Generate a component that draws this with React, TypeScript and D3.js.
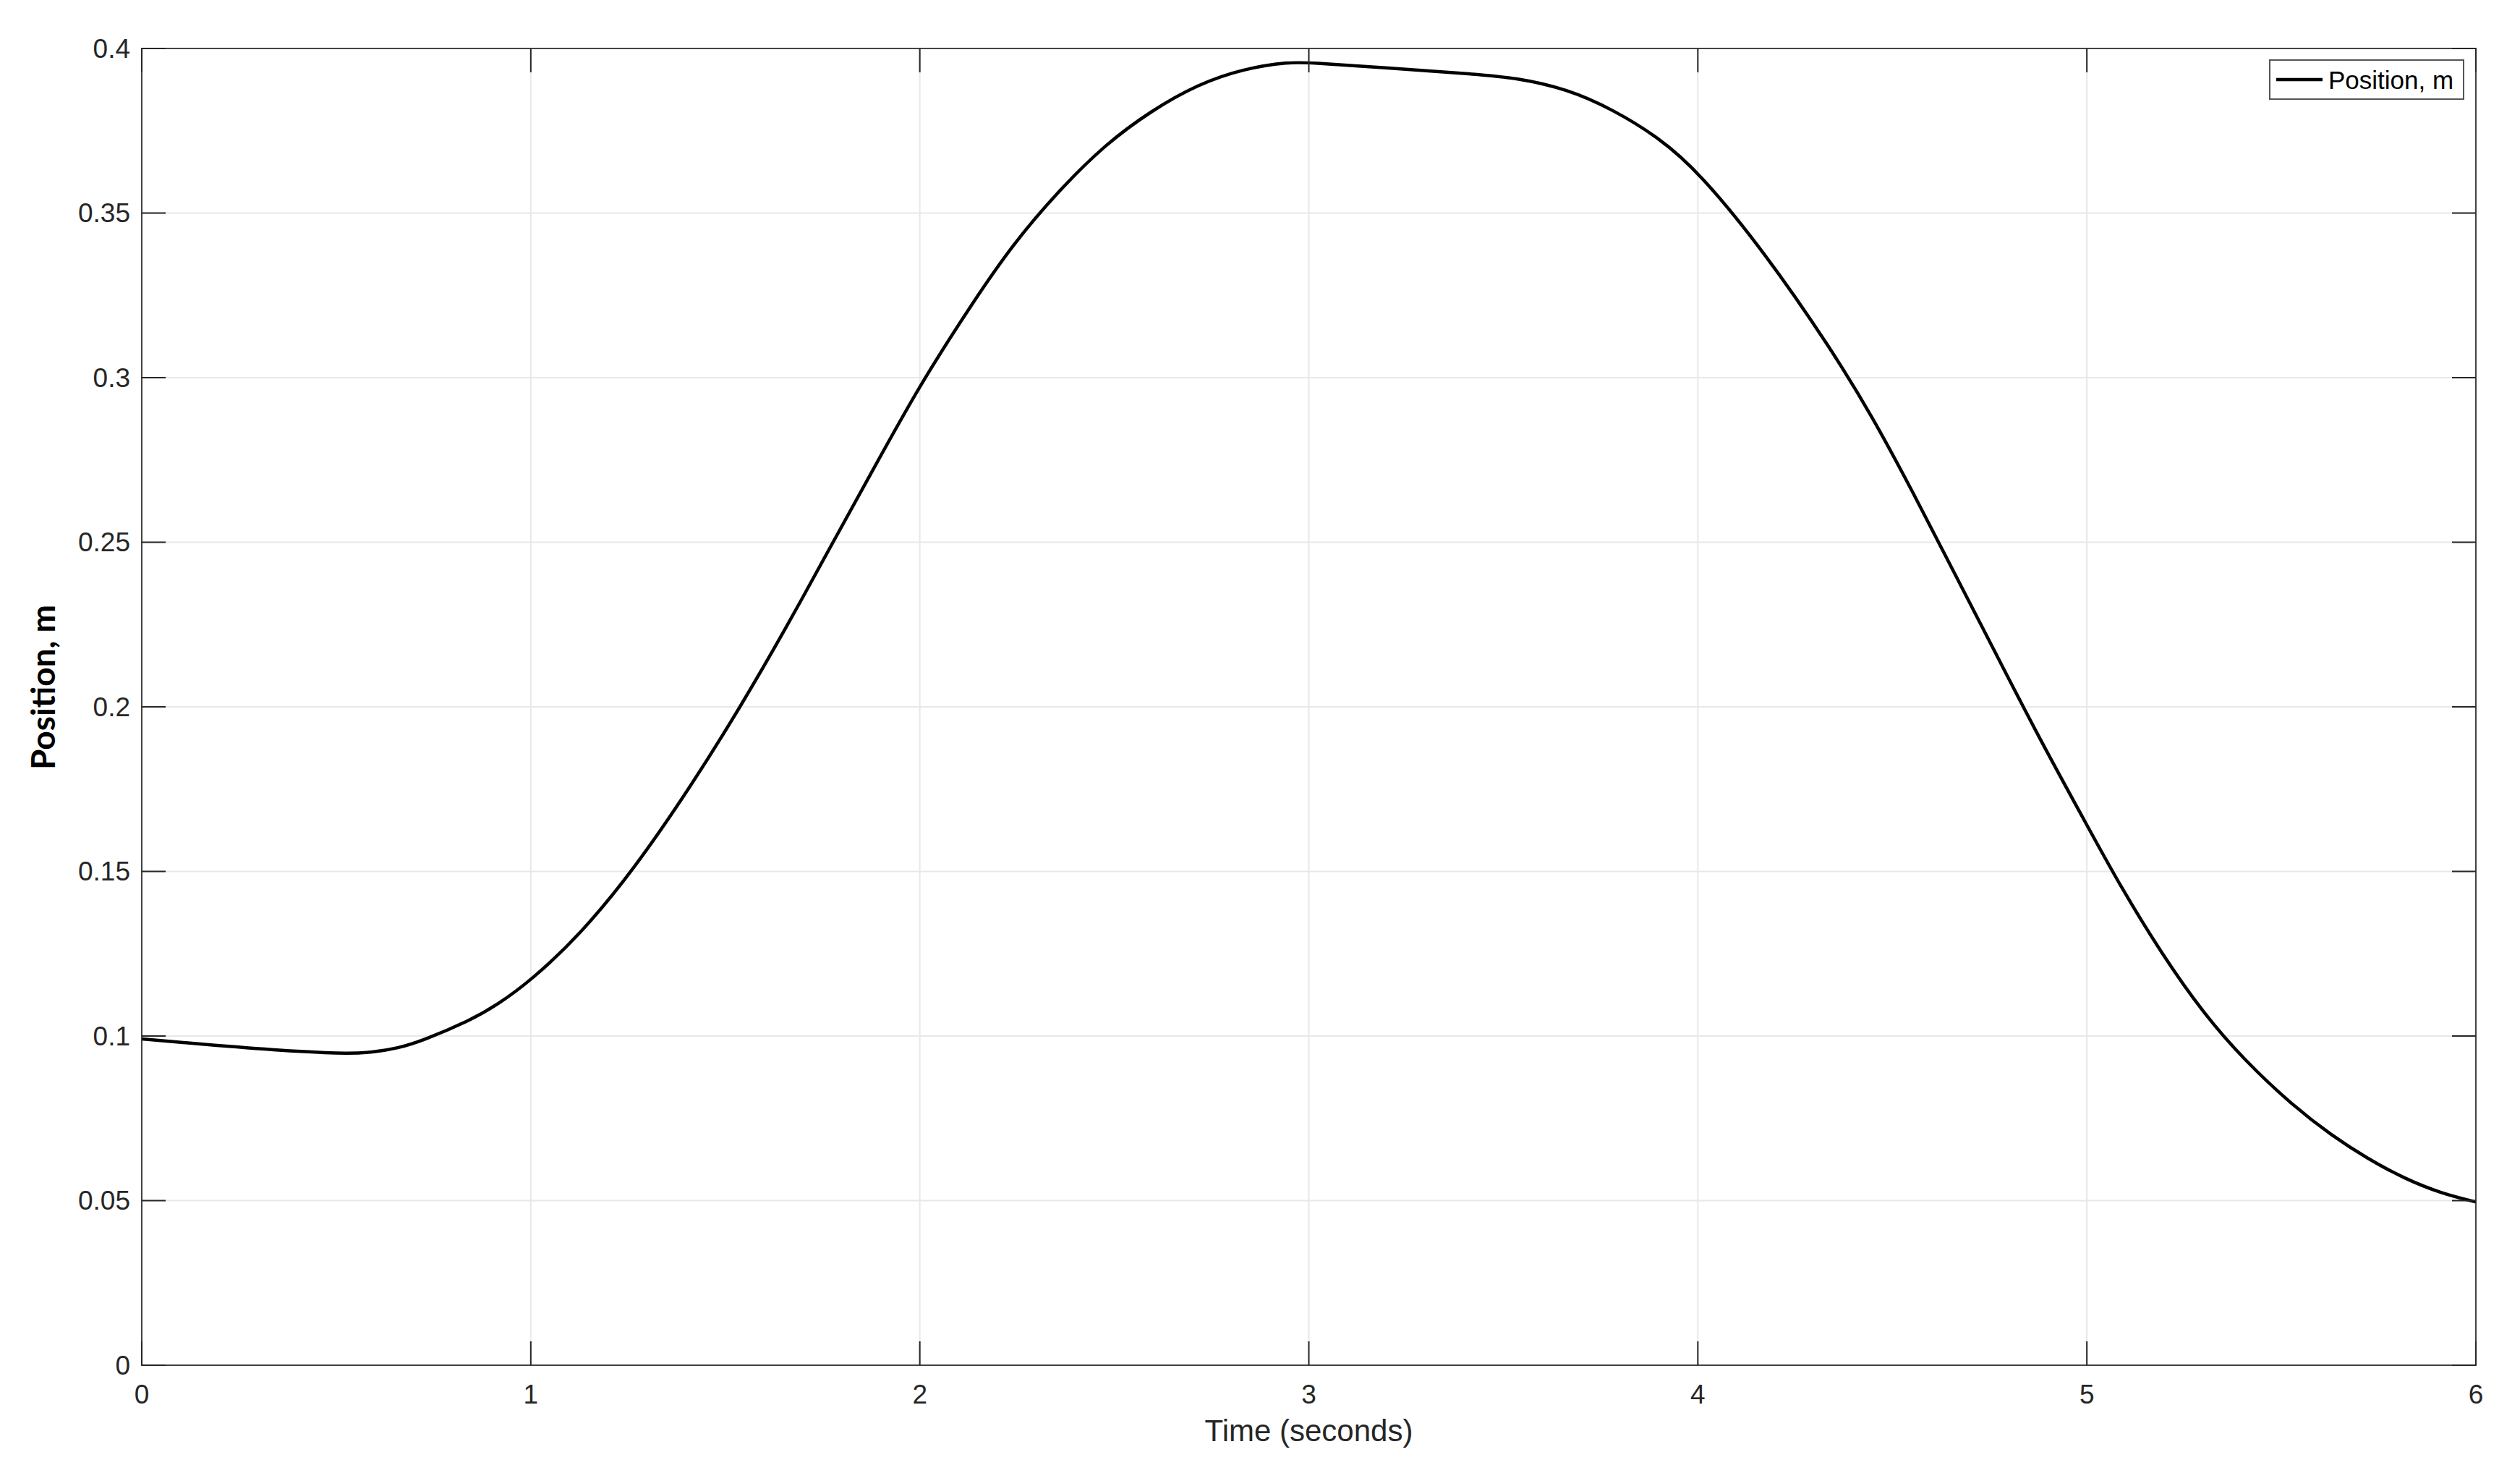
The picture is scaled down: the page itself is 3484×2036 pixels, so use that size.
import React from "react";
import * as d3 from "d3";

const timeValues = [0, 0.224, 0.41, 0.534, 0.596, 0.658, 0.72, 0.844, 0.913, 1.0, 1.126, 1.264, 1.413, 1.541, 1.658, 1.765, 1.882, 2.0, 2.137, 2.239, 2.357, 2.476, 2.595, 2.714, 2.833, 2.951, 3.0, 3.189, 3.426, 3.533, 3.664, 3.783, 3.901, 4.0, 4.17, 4.341, 4.447, 4.554, 4.66, 4.767, 4.873, 5.0, 5.086, 5.193, 5.299, 5.406, 5.533, 5.627, 5.722, 5.816, 5.911, 6.0];
const positionValues = [0.0991, 0.0968, 0.0952, 0.0946, 0.0951, 0.0963, 0.0985, 0.1047, 0.1094, 0.1168, 0.1307, 0.1504, 0.1761, 0.2004, 0.2243, 0.2475, 0.2725, 0.2978, 0.323, 0.3405, 0.3568, 0.3708, 0.3811, 0.3891, 0.3939, 0.3959, 0.3957, 0.3942, 0.3922, 0.3911, 0.3877, 0.3814, 0.3728, 0.3628, 0.3384, 0.309, 0.2885, 0.265, 0.2405, 0.216, 0.1915, 0.1641, 0.1455, 0.1249, 0.107, 0.0925, 0.0785, 0.07, 0.0627, 0.0567, 0.0522, 0.0496];
const xTicks = [0, 1, 2, 3, 4, 5, 6];
const yTicks = [0, 0.05, 0.1, 0.15, 0.2, 0.25, 0.3, 0.35, 0.4];
const yTickLabels = ["0", "0.05", "0.1", "0.15", "0.2", "0.25", "0.3", "0.35", "0.4"];
const seriesName = "Position, m";
const xLabel = "Time (seconds)";
const yLabel = "Position, m";

const W = 3484;
const H = 2036;
const L = 196, R = 3423, T = 67, B = 1887;
const TICK = 33;
const FONT = "'Liberation Sans', Arial, Helvetica, sans-serif";

export default function App() {
  const x = d3.scaleLinear().domain([0, 6]).range([L, R]);
  const y = d3.scaleLinear().domain([0, 0.4]).range([B, T]);
  const pts = timeValues.map((t, i) => [t, positionValues[i]] as [number, number]);
  const line = d3
    .line<[number, number]>()
    .x((d) => x(d[0]))
    .y((d) => y(d[1]))
    .curve(d3.curveBasis);
  const axisColor = "#262626";
  return (
    <svg
      width={W}
      height={H}
      style={{ position: "absolute", left: 0, top: 0, background: "#fff" }}
    >
      <rect x={0} y={0} width={W} height={H} fill="#fff" />
      {xTicks.map((t) => (
        <line key={"gx" + t} x1={x(t)} x2={x(t)} y1={T} y2={B} stroke="#e8e8e8" strokeWidth={2} />
      ))}
      {yTicks.map((t) => (
        <line key={"gy" + t} x1={L} x2={R} y1={y(t)} y2={y(t)} stroke="#e8e8e8" strokeWidth={2} />
      ))}
      <path d={line(pts) || ""} fill="none" stroke="#000" strokeWidth={4.5} strokeLinejoin="round" />
      <rect x={L} y={T} width={R - L} height={B - T} fill="none" stroke={axisColor} strokeWidth={2} opacity={0.85} />
      {xTicks.map((t) => (
        <g key={"tx" + t}>
          <line x1={x(t)} x2={x(t)} y1={B} y2={B - TICK} stroke={axisColor} strokeWidth={2} />
          <line x1={x(t)} x2={x(t)} y1={T} y2={T + TICK} stroke={axisColor} strokeWidth={2} />
          <text x={x(t)} y={1927} textAnchor="middle" dominantBaseline="central" fontFamily={FONT} fontSize={37} fill={axisColor}>
            {String(t)}
          </text>
        </g>
      ))}
      {yTicks.map((t, i) => (
        <g key={"ty" + t}>
          <line x1={L} x2={L + TICK} y1={y(t)} y2={y(t)} stroke={axisColor} strokeWidth={2} />
          <line x1={R} x2={R - TICK} y1={y(t)} y2={y(t)} stroke={axisColor} strokeWidth={2} />
          <text x={180} y={y(t)} textAnchor="end" dominantBaseline="central" fontFamily={FONT} fontSize={37} fill={axisColor}>
            {yTickLabels[i]}
          </text>
        </g>
      ))}
      <text x={(L + R) / 2} y={1992} textAnchor="middle" fontFamily={FONT} fontSize={42} fill={axisColor}>
        {xLabel}
      </text>
      <text
        transform={`translate(76, 950) rotate(-90)`}
        textAnchor="middle"
        fontFamily="Lato, 'Open Sans', sans-serif"
        fontWeight="bold"
        fontSize={46}
        fill="#000"
      >
        {yLabel}
      </text>
      <rect x={3138} y={83} width={268} height={54} fill="#fff" stroke="#555" strokeWidth={2} />
      <line x1={3147} x2={3211} y1={110} y2={110} stroke="#000" strokeWidth={4.5} />
      <text x={3219} y={110} dominantBaseline="central" fontFamily={FONT} fontSize={35} fill="#000">
        {seriesName}
      </text>
    </svg>
  );
}
